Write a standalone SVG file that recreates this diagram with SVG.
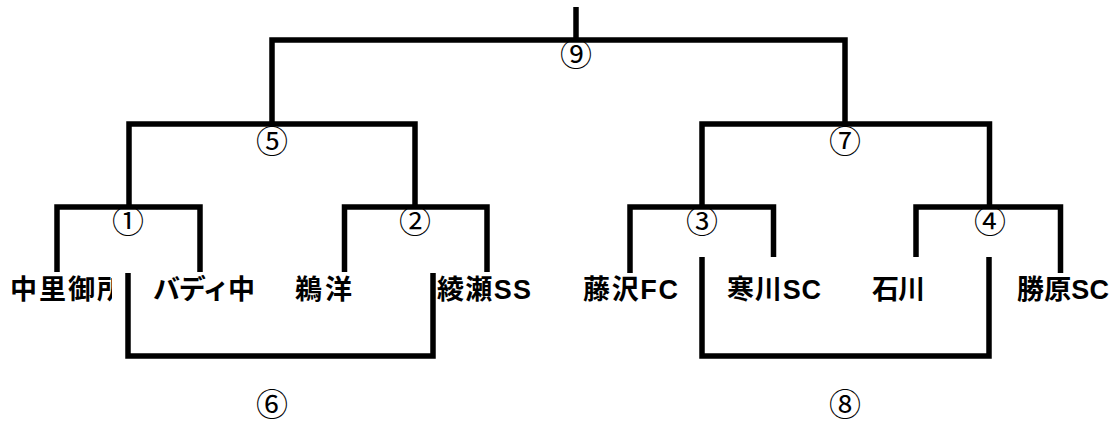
<svg xmlns="http://www.w3.org/2000/svg" width="1112" height="423" viewBox="0 0 1112 423">
<style>
.ln{fill:none;stroke:#000;stroke-width:5.5;stroke-linejoin:miter;stroke-linecap:butt}
.team{font-family:"Liberation Sans","Noto Sans CJK JP",sans-serif;font-weight:bold;font-size:27px;fill:#000}
.num{font-family:"Noto Sans CJK JP","DejaVu Sans",sans-serif;font-size:32px;fill:#000;text-anchor:middle}
</style>
<defs>
<clipPath id="clip1"><rect x="0" y="260" width="112" height="60"/></clipPath>
</defs>
<rect width="1112" height="423" fill="#fff"/>
<g id="connectors">
<line class="ln" x1="576" y1="7" x2="576" y2="40"/>
<polyline class="ln" points="272,124 272,40 845,40 845,124"/>
<polyline class="ln" points="129,207 129,124 415,124 415,207"/>
<polyline class="ln" points="702,207 702,124 989.5,124 989.5,207"/>
<polyline class="ln" points="57,272 57,207 200,207 200,272"/>
<polyline class="ln" points="344.5,272 344.5,207 487,207 487,272"/>
<polyline class="ln" points="630,273 630,207 773.5,207 773.5,257"/>
<polyline class="ln" points="916,257 916,207 1060.5,207 1060.5,273"/>
<polyline class="ln" points="128,273 128,356 433,356 433,273"/>
<polyline class="ln" points="702,257 702,356 989,356 989,257"/>
</g>
<g id="match9"><text class="num" x="576" y="66">⑨</text></g>
<g id="match5"><text class="num" x="272" y="153">⑤</text></g>
<g id="match7"><text class="num" x="845" y="153">⑦</text></g>
<g id="match1"><text class="num" x="128" y="233">①</text></g>
<g id="match2"><text class="num" x="415" y="233">②</text></g>
<g id="match3"><text class="num" x="702" y="233">③</text></g>
<g id="match4"><text class="num" x="990" y="233">④</text></g>
<g id="match6"><text class="num" x="272" y="416">⑥</text></g>
<g id="match8"><text class="num" x="845" y="416">⑧</text></g>
<g id="team-nakazato"><text class="team" x="10" y="299" textLength="114" lengthAdjust="spacing" clip-path="url(#clip1)">中里御所</text></g>
<g id="team-badi"><text class="team" x="153" y="299" textLength="102" lengthAdjust="spacing">バディ中</text></g>
<g id="team-kouyou"><text class="team" x="295" y="299" textLength="57" lengthAdjust="spacing">鵜洋</text></g>
<g id="team-ayase"><text class="team" x="437" y="299" textLength="94" lengthAdjust="spacing">綾瀬SS</text></g>
<g id="team-fujisawa"><text class="team" x="583" y="299" textLength="95" lengthAdjust="spacing">藤沢FC</text></g>
<g id="team-samukawa"><text class="team" x="727" y="299" textLength="94" lengthAdjust="spacing">寒川SC</text></g>
<g id="team-ishikawa"><text class="team" x="872" y="299" textLength="53" lengthAdjust="spacing">石川</text></g>
<g id="team-katsuhara"><text class="team" x="1017" y="299" textLength="92" lengthAdjust="spacing">勝原SC</text></g>
</svg>
